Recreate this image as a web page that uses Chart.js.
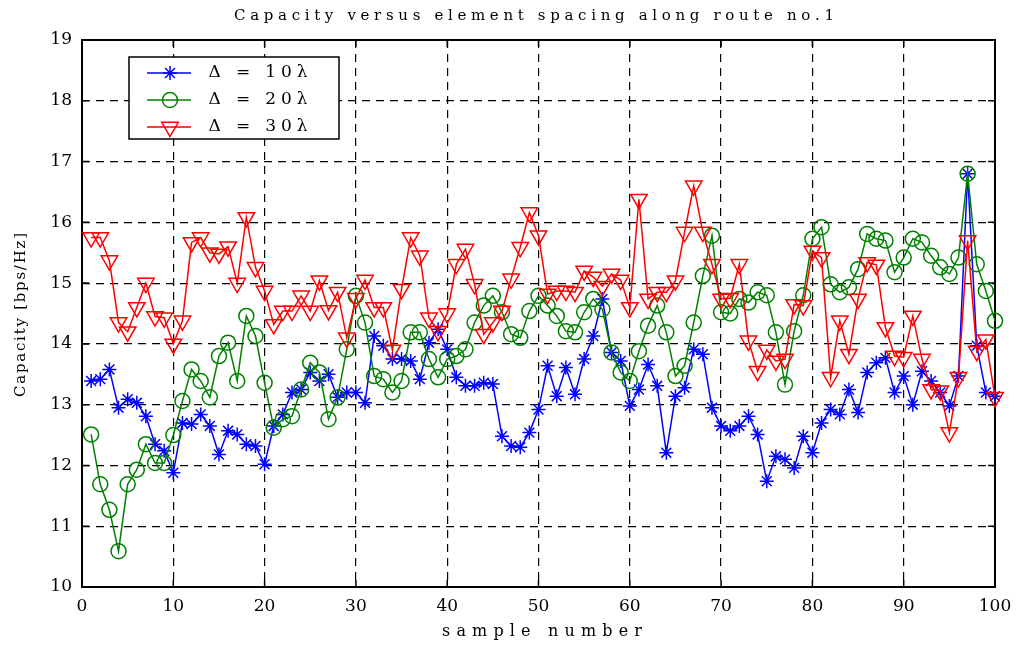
<!DOCTYPE html>
<html>
<head>
<meta charset="utf-8">
<title>Capacity versus element spacing along route no.1</title>
<script src="https://cdn.jsdelivr.net/npm/chart.js@4/dist/chart.umd.min.js"></script>
<style>
  html, body { margin: 0; padding: 0; background: #ffffff; }
  canvas { display: block; }
</style>
</head>
<body>
<canvas id="cap" width="1016" height="649"></canvas>
<script>
// Sample numbers along the route
const sampleNumbers = [
  1, 2, 3, 4, 5, 6, 7, 8, 9, 10, 11, 12, 13, 14, 15, 16, 17, 18, 19, 20,
  21, 22, 23, 24, 25, 26, 27, 28, 29, 30, 31, 32, 33, 34, 35, 36, 37, 38, 39, 40,
  41, 42, 43, 44, 45, 46, 47, 48, 49, 50, 51, 52, 53, 54, 55, 56, 57, 58, 59, 60,
  61, 62, 63, 64, 65, 66, 67, 68, 69, 70, 71, 72, 73, 74, 75, 76, 77, 78, 79, 80,
  81, 82, 83, 84, 85, 86, 87, 88, 89, 90, 91, 92, 93, 94, 95, 96, 97, 98, 99, 100
];

// Capacity [bps/Hz] for element spacing 10 lambda
const capacity10 = [
  13.39, 13.42, 13.58, 12.95, 13.09, 13.03, 12.81, 12.35, 12.24, 11.88,
  12.70, 12.68, 12.84, 12.65, 12.18, 12.57, 12.51, 12.35, 12.32, 12.02,
  12.65, 12.84, 13.20, 13.25, 13.53, 13.39, 13.50, 13.12, 13.20, 13.20,
  13.03, 14.13, 13.97, 13.75, 13.75, 13.72, 13.42, 14.02, 14.24, 13.91,
  13.45, 13.31, 13.31, 13.36, 13.34, 12.48, 12.32, 12.30, 12.54, 12.92,
  13.64, 13.14, 13.61, 13.17, 13.75, 14.13, 14.74, 13.86, 13.72, 12.98,
  13.25, 13.66, 13.31, 12.21, 13.14, 13.28, 13.91, 13.83, 12.95, 12.65,
  12.57, 12.65, 12.81, 12.51, 11.74, 12.15, 12.10, 11.96, 12.48, 12.21,
  12.70, 12.92, 12.84, 13.25, 12.87, 13.53, 13.69, 13.77, 13.20, 13.47,
  13.00, 13.55, 13.39, 13.20, 12.98, 13.47, 16.80, 13.97, 13.20, 13.14
];

// Capacity [bps/Hz] for element spacing 20 lambda
const capacity20 = [
  12.51, 11.69, 11.27, 10.59, 11.69, 11.93, 12.35, 12.04, 12.04, 12.50,
  13.06, 13.58, 13.39, 13.12, 13.80, 14.02, 13.39, 14.46, 14.13, 13.36,
  12.62, 12.76, 12.81, 13.25, 13.69, 13.53, 12.76, 13.12, 13.91, 14.79,
  14.35, 13.47, 13.42, 13.20, 13.39, 14.19, 14.19, 13.75, 13.45, 13.75,
  13.80, 13.91, 14.35, 14.63, 14.79, 14.52, 14.16, 14.10, 14.54, 14.79,
  14.63, 14.46, 14.21, 14.19, 14.52, 14.74, 14.57, 13.86, 13.53, 13.39,
  13.88, 14.30, 14.63, 14.19, 13.47, 13.64, 14.35, 15.12, 15.78, 14.52,
  14.50, 14.74, 14.68, 14.85, 14.80, 14.19, 13.33, 14.21, 14.80, 15.73,
  15.92, 14.98, 14.85, 14.93, 15.23, 15.81, 15.73, 15.70, 15.18, 15.42,
  15.73, 15.67, 15.45, 15.26, 15.15, 15.42, 16.80, 15.31, 14.87, 14.38
];

// Capacity [bps/Hz] for element spacing 30 lambda
const capacity30 = [
  15.75, 15.75, 15.37, 14.35, 14.20, 14.60, 15.00, 14.45, 14.43, 14.00,
  14.38, 15.67, 15.75, 15.50, 15.48, 15.60, 15.00, 16.08, 15.26, 14.87,
  14.32, 14.54, 14.54, 14.79, 14.54, 15.04, 14.55, 14.85, 14.10, 14.75,
  15.05, 14.60, 14.60, 13.90, 14.90, 15.75, 15.45, 14.43, 14.21, 14.50,
  15.31, 15.56, 14.98, 14.16, 14.35, 14.54, 15.07, 15.59, 16.16, 15.78,
  14.82, 14.87, 14.87, 14.85, 15.20, 15.10, 14.95, 15.15, 15.05, 14.60,
  16.38, 14.74, 14.85, 14.85, 15.04, 15.84, 16.60, 15.84, 15.31, 14.74,
  14.75, 15.31, 14.05, 13.55, 13.90, 13.72, 13.75, 14.65, 14.63, 15.53,
  15.42, 13.45, 14.38, 13.83, 14.74, 15.34, 15.30, 14.27, 13.80, 13.78,
  14.46, 13.75, 13.25, 13.23, 12.54, 13.45, 15.70, 13.88, 14.07, 13.12
];

const seriesLabels = ['\u0394 = 10\u03bb', '\u0394 = 20\u03bb', '\u0394 = 30\u03bb'];
const xTicks = [0, 10, 20, 30, 40, 50, 60, 70, 80, 90, 100];
const yTicks = [10, 11, 12, 13, 14, 15, 16, 17, 18, 19];
const chartTitle = 'Capacity versus element spacing along route no.1';
const xTitle = 'sample number';
const yTitle = 'Capacity [bps/Hz]';

const SERIF = "'DejaVu Serif', 'Liberation Serif', serif";

function toPoints(values) {
  return sampleNumbers.map((n, i) => ({ x: n, y: values[i] }));
}

// Text drawn glyph by glyph so it can be spread to a given width
function spreadText(ctx, text, cx, cy, width, font, angle) {
  ctx.save();
  ctx.font = font;
  ctx.fillStyle = '#000';
  ctx.textBaseline = 'middle';
  ctx.textAlign = 'left';
  ctx.translate(cx, cy);
  if (angle) ctx.rotate(angle);
  const chars = Array.from(text);
  const widths = chars.map(c => ctx.measureText(c).width);
  const natural = widths.reduce((a, b) => a + b, 0);
  const gap = chars.length > 1 ? Math.max(0, (width - natural) / (chars.length - 1)) : 0;
  let x = -(natural + gap * (chars.length - 1)) / 2;
  chars.forEach((c, i) => {
    ctx.fillText(c, x, 0);
    x += widths[i] + gap;
  });
  ctx.restore();
}

function drawMarker(ctx, style, x, y, r, color, rotation) {
  if (Chart.helpers && Chart.helpers.drawPoint) {
    ctx.save();
    ctx.strokeStyle = color;
    ctx.fillStyle = 'rgba(0,0,0,0)';
    ctx.lineWidth = 1.5;
    Chart.helpers.drawPoint(ctx, { pointStyle: style, radius: r, rotation: rotation || 0, borderWidth: 1.5 }, x, y);
    ctx.restore();
  }
}

const framePlugin = {
  id: 'frame',
  beforeDatasetsDraw(chart) {
    const { ctx, chartArea: a, scales } = chart;
    ctx.save();
    ctx.strokeStyle = '#000';
    ctx.lineWidth = 2;
    ctx.strokeRect(a.left, a.top, a.right - a.left, a.bottom - a.top);
    // inward tick marks on all four sides
    ctx.lineWidth = 1.5;
    const tl = 7;
    ctx.beginPath();
    xTicks.forEach(v => {
      const px = scales.x.getPixelForValue(v);
      ctx.moveTo(px, a.bottom); ctx.lineTo(px, a.bottom - tl);
      ctx.moveTo(px, a.top); ctx.lineTo(px, a.top + tl);
    });
    yTicks.forEach(v => {
      const py = scales.y.getPixelForValue(v);
      ctx.moveTo(a.left, py); ctx.lineTo(a.left + tl, py);
      ctx.moveTo(a.right, py); ctx.lineTo(a.right - tl, py);
    });
    ctx.stroke();
    ctx.restore();
  },
  afterDraw(chart) {
    const { ctx } = chart;
    spreadText(ctx, chartTitle, 534, 16, 600, '15px ' + SERIF, 0);
    spreadText(ctx, xTitle, 542, 632, 200, '16px ' + SERIF, 0);
    spreadText(ctx, yTitle, 21, 315, 164, '15px ' + SERIF, -Math.PI / 2);

    // legend box
    const box = { x: 129, y: 57, w: 210, h: 82 };
    ctx.save();
    ctx.fillStyle = '#fff';
    ctx.fillRect(box.x, box.y, box.w, box.h);
    ctx.strokeStyle = '#000';
    ctx.lineWidth = 1.5;
    ctx.strokeRect(box.x, box.y, box.w, box.h);
    ctx.restore();
    const rows = [73, 100, 127];
    chart.data.datasets.slice().sort((p, q) => p.legendIndex - q.legendIndex).forEach((ds, i) => {
      const y = rows[i];
      ctx.save();
      ctx.strokeStyle = ds.borderColor;
      ctx.lineWidth = 1.5;
      ctx.beginPath();
      ctx.moveTo(147, y); ctx.lineTo(191, y);
      ctx.stroke();
      ctx.restore();
      drawMarker(ctx, ds.pointStyle, 170, y, ds.pointRadius, ds.borderColor, ds.pointRotation);
      spreadText(ctx, ds.label, 258, y, 99, '17px ' + SERIF, 0);
    });
  }
};

const common = {
  borderWidth: 1.5,
  pointBorderWidth: 1.5,
  pointBackgroundColor: 'rgba(0,0,0,0)',
  pointHoverRadius: 0,
  tension: 0,
  fill: false,
  clip: false
};

new Chart(document.getElementById('cap'), {
  type: 'line',
  data: {
    datasets: [
      Object.assign({}, common, {
        label: seriesLabels[0], legendIndex: 0, order: 3,
        data: toPoints(capacity10),
        borderColor: '#0000ff', pointBorderColor: '#0000ff',
        pointStyle: 'star', pointRadius: 7
      }),
      Object.assign({}, common, {
        label: seriesLabels[1], legendIndex: 1, order: 2,
        data: toPoints(capacity20),
        borderColor: '#008000', pointBorderColor: '#008000',
        pointStyle: 'circle', pointRadius: 7.5
      }),
      Object.assign({}, common, {
        label: seriesLabels[2], legendIndex: 2, order: 1,
        data: toPoints(capacity30),
        borderColor: '#ff0000', pointBorderColor: '#ff0000',
        pointStyle: 'triangle', pointRotation: 180, pointRadius: 9.5
      })
    ]
  },
  options: {
    responsive: false,
    devicePixelRatio: 1,
    animation: false,
    events: [],
    layout: { padding: { left: 0, right: 21, top: 40, bottom: 0 } },
    plugins: {
      legend: { display: false },
      title: { display: false },
      tooltip: { enabled: false }
    },
    scales: {
      x: {
        type: 'linear',
        min: 0, max: 100,
        afterFit(scale) { scale.height = 62; scale.paddingLeft = 0; scale.paddingRight = 0; },
        afterBuildTicks(scale) { scale.ticks = xTicks.map(v => ({ value: v })); },
        ticks: { color: '#000', font: { family: SERIF, size: 17 }, padding: 9, maxRotation: 0 },
        grid: { color: '#000', lineWidth: 1.2, drawTicks: false },
        border: { display: false, dash: [8, 6] }
      },
      y: {
        type: 'linear',
        min: 10, max: 19,
        afterFit(scale) { scale.width = 82; scale.paddingTop = 0; scale.paddingBottom = 0; },
        afterBuildTicks(scale) { scale.ticks = yTicks.map(v => ({ value: v })); },
        ticks: { color: '#000', font: { family: SERIF, size: 17 }, padding: 10 },
        grid: { color: '#000', lineWidth: 1.2, drawTicks: false },
        border: { display: false, dash: [8, 6] }
      }
    }
  },
  plugins: [framePlugin]
});
</script>
</body>
</html>
